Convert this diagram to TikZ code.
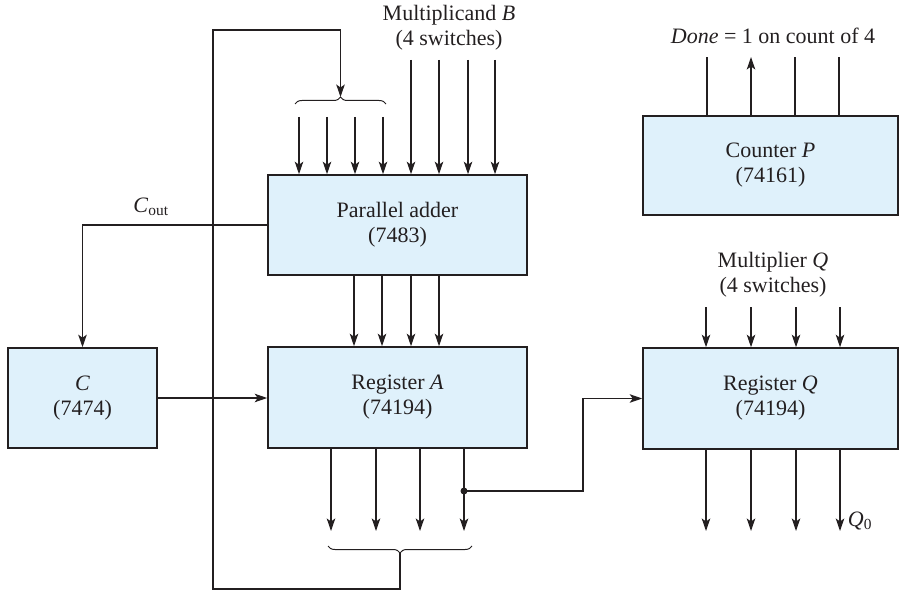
\documentclass[tikz,border=0pt]{standalone}
\usepackage{fontspec}
\setmainfont{Liberation Serif}
\usetikzlibrary{arrows.meta,decorations.pathreplacing}
\definecolor{boxfill}{HTML}{DFF1FB}
\definecolor{ink}{HTML}{231F20}
\begin{document}
\begin{tikzpicture}[x=1pt,y=-1pt,
  blk/.style={draw=ink, line width=1.6pt, fill=boxfill, inner sep=0pt, align=center, text=ink,
              font=\fontsize{22}{25}\selectfont},
  wire/.style={draw=ink, line width=1.1pt},
  arr/.style={wire, -{Stealth[length=12.5pt,width=8.5pt,inset=3pt]}},
  brc/.style={draw=ink, line width=1pt, decorate, decoration={brace, amplitude=7pt}},
  lbl/.style={align=center, text=ink, font=\fontsize{22}{25}\selectfont}]
\useasboundingbox (0,0) rectangle (901,593);

% blocks
\node[blk, minimum width=259pt, minimum height=100pt] (adder) at (397.5,225) {Parallel adder\\(7483)};
\node[blk, minimum width=259pt, minimum height=101pt] (regA) at (397.5,397.5) {Register \textit{A}\\(74194)};
\node[blk, minimum width=149pt, minimum height=100pt] (C) at (82.5,398) {\textit{C}\\(7474)};
\node[blk, minimum width=255pt, minimum height=101pt] (regQ) at (770.5,398.5) {Register \textit{Q}\\(74194)};
\node[blk, minimum width=255pt, minimum height=99pt] (cnt) at (770.5,165.5) {Counter \textit{P}\\(74161)};

% labels
\node[lbl] (mB) at (449,28) {Multiplicand \textit{B}\\(4 switches)};
\node[lbl] (mQ) at (773,275) {Multiplier \textit{Q}\\(4 switches)};
\node[lbl] (done) at (773,36) {\textit{Done} = 1 on count of 4};
\node[lbl] (cout) at (151,207) {\textit{C}\textsubscript{out}};
\node[lbl] (q0) at (860,521) {\textit{Q}\textsubscript{0}};

% inputs to adder
\foreach \x [count=\i] in {299,327,355,383} {
  \coordinate (fa\i) at (\x,117);
  \draw[arr] (fa\i) -- (fa\i |- adder.north);
}
\foreach \x [count=\i] in {411,439,468,495} {
  \coordinate (fb\i) at (\x,60);
  \draw[arr] (fb\i) -- (fb\i |- adder.north);
}
% adder to register A
\foreach \x [count=\i] in {354,382,411,439} {
  \coordinate (ar\i) at (\x,300);
  \draw[arr] (ar\i |- adder.south) -- (ar\i |- regA.north);
}
% register A outputs
\foreach \x [count=\i] in {331,376,420,464} {
  \coordinate (ao\i) at (\x,531);
  \draw[arr] (ao\i |- regA.south) -- (ao\i);
}
% register Q inputs and outputs
\foreach \x [count=\i] in {706,751,796,840} {
  \coordinate (qi\i) at (\x,307);
  \draw[arr] (qi\i) -- (qi\i |- regQ.north);
  \coordinate (qo\i) at (\x,531);
  \draw[arr] (qo\i |- regQ.south) -- (qo\i);
}
% counter outputs
\foreach \x [count=\i] in {707,751,795,839} {
  \coordinate (co\i) at (\x,57);
}
\draw[wire] (co1 |- cnt.north) -- (co1);
\draw[arr] (co2 |- cnt.north) -- (co2);
\draw[wire] (co3 |- cnt.north) -- (co3);
\draw[wire] (co4 |- cnt.north) -- (co4);

% braces
\draw[brc] (295,104) -- (386,104);
\coordinate (bt) at (340.5,97);
\draw[brc] (472,546) -- (328,546);
\coordinate (bb) at (400,553);

% feedback loop
\coordinate (fbc1) at (213,589);
\coordinate (fbc2) at (213,30);
\draw[arr] (bb) |- (fbc1) -- (fbc2) -| (bt);

% carry out
\draw[arr] (adder.west) -| (C.north);
% C to register A
\draw[arr] (C.east) -- (C.east -| regA.west);

% serial link A -> Q
\coordinate (dot) at (464,491);
\coordinate (qx) at (583,491);
\fill[ink] (dot) circle (3.5pt);
\draw[arr] (dot) -- (qx) |- (regQ.west);
\end{tikzpicture}
\end{document}
